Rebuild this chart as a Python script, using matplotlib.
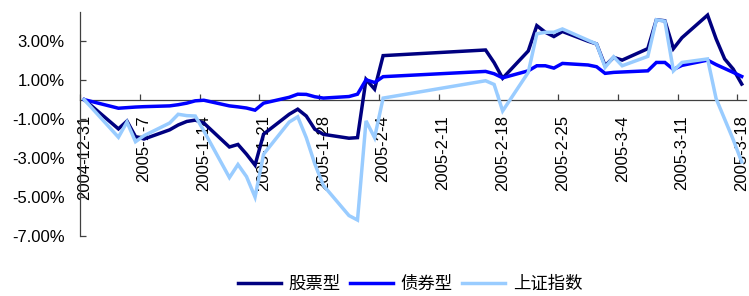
import matplotlib
matplotlib.use("Agg")
import matplotlib.pyplot as plt
import matplotlib.dates as mdates
from matplotlib.ticker import FixedLocator, FuncFormatter
import pandas as pd

plt.rcParams["font.family"] = ["Liberation Sans", "Noto Sans CJK SC"]

# trading days (Spring Festival break between 2-4 and 2-16)
dates = [
    "2004-12-31",
    "2005-01-04", "2005-01-05", "2005-01-06", "2005-01-07",
    "2005-01-10", "2005-01-11", "2005-01-12", "2005-01-13", "2005-01-14",
    "2005-01-17", "2005-01-18", "2005-01-19", "2005-01-20", "2005-01-21",
    "2005-01-24", "2005-01-25", "2005-01-26", "2005-01-27", "2005-01-28",
    "2005-01-31", "2005-02-01", "2005-02-02", "2005-02-03", "2005-02-04",
    "2005-02-16", "2005-02-17", "2005-02-18",
    "2005-02-21", "2005-02-22", "2005-02-23", "2005-02-24", "2005-02-25",
    "2005-02-28", "2005-03-01", "2005-03-02", "2005-03-03", "2005-03-04",
    "2005-03-07", "2005-03-08", "2005-03-09", "2005-03-10", "2005-03-11",
    "2005-03-14", "2005-03-15", "2005-03-16", "2005-03-17", "2005-03-18",
]

# cumulative return, %
stock_fund = [
    0.00,
    -1.50, -1.10, -1.90, -2.02,
    -1.55, -1.30, -1.12, -1.05, -1.20,
    -2.43, -2.30, -2.80, -3.36, -1.77,
    -0.75, -0.49, -0.84, -1.52, -1.78,
    -1.98, -1.95, 1.04, 0.54, 2.26,
    2.55, 1.90, 1.10,
    2.50, 3.80, 3.46, 3.24, 3.50,
    3.00, 2.86, 1.74, 2.17, 2.03,
    2.62, 4.10, 4.05, 2.62, 3.18,
    4.34, 3.12, 2.09, 1.57, 0.80,
]
bond_fund = [
    0.00,
    -0.44, -0.41, -0.38, -0.36,
    -0.32, -0.26, -0.18, -0.06, -0.03,
    -0.32, -0.37, -0.43, -0.54, -0.18,
    0.12, 0.28, 0.27, 0.15, 0.08,
    0.16, 0.28, 1.02, 0.88, 1.18,
    1.45, 1.33, 1.12,
    1.48, 1.74, 1.74, 1.62, 1.86,
    1.78, 1.69, 1.35, 1.40, 1.42,
    1.48, 1.91, 1.91, 1.55, 1.76,
    2.03, 1.80, 1.60, 1.40, 1.19,
]
sh_index = [
    0.00,
    -1.93, -1.15, -2.16, -1.85,
    -1.20, -0.75, -0.82, -0.84, -1.60,
    -4.00, -3.33, -3.95, -5.00, -2.80,
    -1.15, -0.88, -1.95, -3.30, -4.40,
    -5.95, -6.18, -1.09, -1.95, 0.08,
    0.97, 0.78, -0.58,
    1.40, 3.38, 3.46, 3.46, 3.63,
    3.05, 2.86, 1.66, 2.20, 1.74,
    2.22, 4.10, 4.03, 1.48, 1.91,
    2.09, 0.05, -1.00, -2.05, -3.20,
]

series_names = ["股票型", "债券型", "上证指数"]
tick_dates = [
    "2004-12-31", "2005-01-07", "2005-01-14", "2005-01-21", "2005-01-28",
    "2005-02-04", "2005-02-11", "2005-02-18", "2005-02-25", "2005-03-04",
    "2005-03-11", "2005-03-18",
]
tick_labels = [
    "2004-12-31", "2005-1-7", "2005-1-14", "2005-1-21", "2005-1-28",
    "2005-2-4", "2005-2-11", "2005-2-18", "2005-2-25", "2005-3-4",
    "2005-3-11", "2005-3-18",
]
y_ticks = [-7, -5, -3, -1, 1, 3]

colors = ["#000080", "#0000FF", "#99CCFF"]

# points sit in the middle of each day (Excel "between tick marks")
x = mdates.date2num(pd.to_datetime(dates).to_pydatetime()) + 0.5
tx = mdates.date2num(pd.to_datetime(tick_dates).to_pydatetime())

fig = plt.figure(figsize=(7.49, 2.96), dpi=100)
ax = fig.add_axes([80 / 749, 1 - 236 / 296, 666 / 749, 224 / 296])

for vals, name, c in zip([stock_fund, bond_fund, sh_index], series_names, colors):
    ax.plot(x, vals, color=c, lw=2.5, label=name, solid_joinstyle="miter", zorder=3)

ax.set_xlim(tx[0], tx[-1] + 1)
ax.set_ylim(-7, 4.5)

for s in ["top", "right"]:
    ax.spines[s].set_visible(False)
ax.spines["bottom"].set_position(("data", 0))
ax.spines["bottom"].set_color("#404040")
ax.spines["left"].set_color("#404040")
ax.spines["bottom"].set_linewidth(0.9)
ax.spines["left"].set_linewidth(0.9)
ax.set_axisbelow(True)

ax.xaxis.set_major_locator(FixedLocator(tx))
ax.xaxis.set_minor_locator(FixedLocator(tx + 0.5))
ax.xaxis.set_major_formatter(FuncFormatter(lambda v, p: ""))
ax.set_xticks(tx + 0.5, tick_labels, minor=True, rotation=90,
              fontsize=12, va="top", ha="center")
ax.tick_params(axis="x", which="major", direction="in", length=4,
               width=0.9, color="#404040")
ax.tick_params(axis="x", which="minor", length=0, pad=11)

ax.set_yticks(y_ticks)
ax.yaxis.set_major_formatter(FuncFormatter(lambda v, p: f"{v:.2f}%"))
ax.tick_params(axis="y", direction="in", length=4, width=0.9,
               color="#404040", labelsize=12, pad=11)

handles, labels = ax.get_legend_handles_labels()
fig.legend(handles, labels, loc="center", bbox_to_anchor=(410 / 749, 12 / 296),
           ncol=3, frameon=False, fontsize=12.5, handlelength=2.5,
           handletextpad=0.45, columnspacing=0.5)

fig.savefig("out.png", dpi=100)
